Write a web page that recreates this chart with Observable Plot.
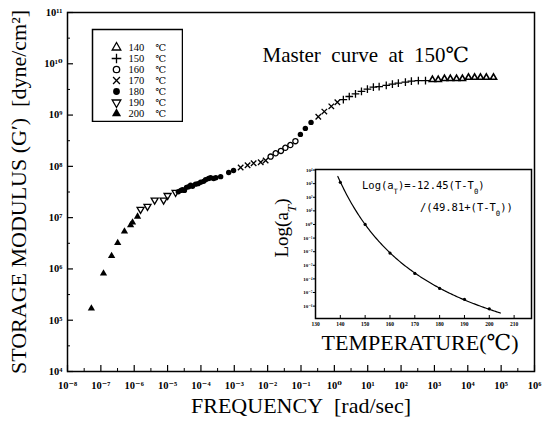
<!DOCTYPE html>
<html>
<head>
<meta charset="utf-8">
<script src="https://cdn.jsdelivr.net/npm/d3@7"></script>
<script src="https://cdn.jsdelivr.net/npm/@observablehq/plot@0.6"></script>
<style>
  body { margin: 0; background: #fff; }
  #chart { position: relative; width: 544px; height: 438px; }
</style>
</head>
<body>
<div id="chart"></div>
<script>
// Test temperatures (°C) and the master curve at 150 °C, shifted frequency (rad/sec) vs G' (dyne/cm²)
const temps = [140, 150, 160, 170, 180, 190, 200];
const filledTemps = [180, 200];

const f200 = [5.2e-8, 1.2e-7, 2.1e-7, 3.2e-7, 5.1e-7, 7.8e-7, 8.9e-7, 1.26e-6];
const g200 = [1.7e5, 8.2e5, 1.8e6, 3.2e6, 5.4e6, 7.1e6, 8.1e6, 1.05e7];

const f190 = [1.55e-6, 2.5e-6, 4.1e-6, 7.6e-6, 1.0e-5, 1.74e-5];
const g190 = [1.45e7, 1.66e7, 2.2e7, 2.2e7, 2.7e7, 3.1e7];

const f180 = [2.1e-5, 2.5e-5, 2.8e-5, 3.2e-5, 3.7e-5, 4.3e-5, 4.9e-5, 5.6e-5, 6.9e-5, 8.2e-5, 9.8e-5, 1.2e-4, 1.38e-4, 1.7e-4, 1.95e-4, 2.4e-4, 2.8e-4, 3.9e-4, 6.8e-4, 9.5e-4, 0.096, 0.135, 0.20];
const g180 = [3.2e7, 3.4e7, 3.5e7, 3.4e7, 3.9e7, 4.0e7, 4.3e7, 4.1e7, 4.5e7, 4.6e7, 4.9e7, 5.1e7, 5.5e7, 5.8e7, 6.0e7, 5.8e7, 6.0e7, 6.3e7, 7.6e7, 8.3e7, 4.2e8, 5.5e8, 7.2e8];

const f170 = [1.55e-3, 2.5e-3, 3.8e-3, 6.2e-3, 8.7e-3, 0.33, 0.50, 0.81, 1.23];
const g170 = [9.5e7, 1.05e8, 1.15e8, 1.2e8, 1.3e8, 9.3e8, 1.17e9, 1.48e9, 1.78e9];

const f160 = [1.23e-2, 1.74e-2, 2.5e-2, 3.4e-2, 4.8e-2, 6.8e-2];
const g160 = [1.55e8, 1.8e8, 2.0e8, 2.3e8, 2.6e8, 3.1e8];

const f150 = [1.86, 2.8, 4.3, 6.5, 9.8, 14.8, 22, 36, 55, 83, 135, 204, 330, 540];
const g150 = [2.0e9, 2.3e9, 2.6e9, 2.9e9, 3.2e9, 3.5e9, 3.6e9, 3.8e9, 4.0e9, 4.2e9, 4.4e9, 4.6e9, 4.7e9, 4.7e9];

const f140 = [870, 1.3e3, 2.0e3, 3.0e3, 4.6e3, 6.9e3, 1.05e4, 1.6e4, 2.4e4, 3.6e4, 5.9e4];
const g140 = [4.9e9, 4.9e9, 5.1e9, 5.1e9, 5.1e9, 5.1e9, 5.4e9, 5.4e9, 5.4e9, 5.4e9, 5.4e9];

// Shift-factor inset: measured log(aT) per temperature, and the WLF fit printed on the panel
const shiftT = [140, 150, 160, 170, 180, 190, 200];
const shiftLogA = [3.1, 0.0, -2.1, -3.6, -4.7, -5.5, -6.2];
const wlfC1 = 12.45, wlfC2 = 49.81, wlfT0 = 150;
const wlfRange = [139, 204.5];

// Axis ticks
const xMajor = d3.range(-8, 7).map(e => 10 ** e);
const xMinor = d3.range(-8, 6).map(e => 10 ** (e + 0.5));
const yMajor = d3.range(4, 12).map(e => 10 ** e);
const yMinor = d3.range(4, 11).map(e => 10 ** (e + 0.5));
const insetTicksX = d3.range(130, 211, 10);
const insetTicksY = d3.range(-6, 5);

// ---------------------------------------------------------------
const serif = "'Liberation Serif', 'DejaVu Serif', 'Noto Sans CJK JP', serif";
const mono = "'DejaVu Sans Mono', 'Liberation Mono', monospace";

const supMap = {"-": "⁻", "0": "⁰", "1": "¹", "2": "²", "3": "³", "4": "⁴", "5": "⁵", "6": "⁶", "7": "⁷", "8": "⁸", "9": "⁹"};
const supExp = n => String(n).replace(/./g, c => supMap[c]);
const pow10 = d => "10" + supExp(Math.round(Math.log10(d)));

// Downward-pointing triangle (d3 has only the upward one)
const sqrt3 = Math.sqrt(3);
const triangleDown = {
  draw(context, size) {
    const y = -Math.sqrt(size / (sqrt3 * 3));
    context.moveTo(0, -y * 2);
    context.lineTo(-sqrt3 * y, y);
    context.lineTo(sqrt3 * y, y);
    context.closePath();
  }
};

const symbolScale = {
  domain: temps,
  range: ["triangle", "plus", "circle", "times", "circle", triangleDown, "triangle"]
};

const series = [
  {t: 140, f: f140, g: g140}, {t: 150, f: f150, g: g150}, {t: 160, f: f160, g: g160},
  {t: 170, f: f170, g: g170}, {t: 180, f: f180, g: g180}, {t: 190, f: f190, g: g190},
  {t: 200, f: f200, g: g200}
];
const rows = series.flatMap(s => s.f.map((f, i) => ({t: s.t, f, g: s.g[i]})));
const isFilled = t => filledTemps.includes(t);

const chart = document.getElementById("chart");
function place(node, left, top) {
  node.style.position = "absolute";
  node.style.left = left + "px";
  node.style.top = top + "px";
  chart.appendChild(node);
}

// ---------------- Main master-curve plot ----------------
const W = 544, H = 438;
const M = {left: 67, right: 10, top: 12, bottom: 67};
const FW = W - M.left - M.right, FH = H - M.top - M.bottom;

const main = Plot.plot({
  width: W, height: H,
  marginLeft: M.left, marginRight: M.right, marginTop: M.top, marginBottom: M.bottom,
  style: {fontFamily: serif, background: "white", color: "black"},
  x: {type: "log", domain: [1e-8, 1e6], label: null},
  y: {type: "log", domain: [1e4, 1e11], label: null},
  symbol: symbolScale,
  marks: [
    Plot.dot(rows.filter(d => d.t === 140), {x: "f", y: "g", symbol: "t", r: 2.3, stroke: "black", fill: "none", strokeWidth: 1.6}),
    Plot.dot(rows.filter(d => d.t !== 140 && !isFilled(d.t)), {x: "f", y: "g", symbol: "t", r: 2.6, stroke: "black", fill: "none", strokeWidth: 1.3}),
    Plot.dot(rows.filter(d => isFilled(d.t)), {x: "f", y: "g", symbol: "t", r: 2.7, fill: "black", stroke: "none"}),
    Plot.ruleY(yMajor, {y: d => d, insetRight: FW - 6, strokeWidth: 1.2}),
    Plot.ruleY(yMinor, {y: d => d, insetRight: FW - 3}),
    Plot.ruleX(xMajor, {x: d => d, insetTop: FH - 6, strokeWidth: 1.2}),
    Plot.ruleX(xMinor, {x: d => d, insetTop: FH - 3}),
    Plot.frame({strokeWidth: 1.5}),
    Plot.axisX({ticks: xMajor, tickSize: 0, tickPadding: 10, tickFormat: pow10, fontSize: 10.5, fontWeight: "bold"}),
    Plot.axisY({ticks: yMajor, tickSize: 0, tickPadding: 5, tickFormat: pow10, fontSize: 10.5, fontWeight: "bold"}),
    Plot.text(["STORAGE MODULUS (G′)\u2002[dyne/cm²]"], {text: d => d, frameAnchor: "left", textAnchor: "middle", dx: -49, rotate: -90, fontSize: 22}),
    Plot.text(["FREQUENCY\u2002[rad/sec]"], {text: d => d, frameAnchor: "bottom", dy: 41, fontSize: 22}),
    Plot.text(["Master\u2002curve\u2002at\u2002150℃"], {text: d => d, frameAnchor: "top-left", dx: 195, dy: 35, textAnchor: "start", fontSize: 21})
  ]
});
place(main, 0, 0);

// ---------------- Legend ----------------
const legend = Plot.plot({
  width: 92, height: 94,
  marginLeft: 1, marginRight: 1, marginTop: 1, marginBottom: 1,
  style: {fontFamily: serif, background: "white", color: "black"},
  x: {domain: [0, 1], axis: null},
  y: {type: "point", domain: temps, padding: 0, insetTop: 17, insetBottom: 8, axis: null},
  symbol: symbolScale,
  marks: [
    Plot.frame({strokeWidth: 1.5}),
    Plot.dot(temps.filter(t => !isFilled(t)), {y: d => d, symbol: d => d, frameAnchor: "left", dx: 24, r: 3.2, stroke: "black", fill: "none", strokeWidth: 1.3}),
    Plot.dot(temps.filter(isFilled), {y: d => d, symbol: d => d, frameAnchor: "left", dx: 24, r: 3.4, fill: "black", stroke: "none"}),
    Plot.text(temps, {y: d => d, text: d => String(d), frameAnchor: "left", dx: 36, textAnchor: "start", fontSize: 10.5}),
    Plot.text(temps, {y: d => d, text: () => "℃", frameAnchor: "left", dx: 63, textAnchor: "start", fontSize: 9.5})
  ]
});
place(legend, 91, 28);

// ---------------- Inset: shift factor vs temperature ----------------
const wlf = T => -wlfC1 * (T - wlfT0) / (wlfC2 + (T - wlfT0));
const wlfCurve = d3.range(wlfRange[0], wlfRange[1] + 0.01, 0.5).map(T => ({T, v: wlf(T)}));
const shiftRows = shiftT.map((T, i) => ({T, v: shiftLogA[i]}));

const IW = 270, IH = 195;
const IM = {left: 45, right: 9, top: 9, bottom: 37};
const IFH = IH - IM.top - IM.bottom;

const inset = Plot.plot({
  width: IW, height: IH,
  marginLeft: IM.left, marginRight: IM.right, marginTop: IM.top, marginBottom: IM.bottom,
  style: {fontFamily: serif, background: "transparent", overflow: "visible", color: "black"},
  x: {domain: [130, 217], label: null},
  y: {domain: [-6.91, 4.04], label: null},
  marks: [
    Plot.frame({fill: "white", stroke: "black", strokeWidth: 1.5}),
    Plot.line(wlfCurve, {x: "T", y: "v", strokeWidth: 1.2}),
    Plot.dot(shiftRows, {x: "T", y: "v", r: 1.6, fill: "black"}),
    Plot.ruleX(insetTicksX, {x: d => d, insetTop: IFH - 3}),
    Plot.axisX({ticks: insetTicksX, tickSize: 0, tickPadding: 4, fontSize: 5.5, fontWeight: "bold"}),
    Plot.axisY({ticks: insetTicksY, tickSize: 2, tickPadding: 1, tickFormat: n => "10" + supExp(n), fontSize: 5, fontWeight: "bold"})
  ]
});
place(inset, 270, 160);

const isvg = d3.select(inset);
function sub(textSel, s, italic) {
  const t = textSel.append("tspan").attr("baseline-shift", "sub").attr("font-size", "70%").text(s);
  if (italic) t.attr("font-style", "italic");
}
// Fitted equation
const eq1 = isvg.append("text").attr("x", 92).attr("y", 29).attr("text-anchor", "start")
  .attr("font-family", mono).attr("font-size", 10.5).attr("fill", "black");
eq1.append("tspan").text("Log(a");
sub(eq1, "T");
eq1.append("tspan").text(")=-12.45(T-T");
sub(eq1, "0");
eq1.append("tspan").text(")");

const eq2 = isvg.append("text").attr("x", 150).attr("y", 51).attr("text-anchor", "start")
  .attr("font-family", mono).attr("font-size", 10.5).attr("fill", "black");
eq2.append("tspan").text("/(49.81+(T-T");
sub(eq2, "0");
eq2.append("tspan").text("))");

// Axis titles of the inset
const yl = isvg.append("text")
  .attr("transform", "translate(18,68) rotate(-90)")
  .attr("text-anchor", "middle").attr("font-family", serif).attr("font-size", 19).attr("fill", "black");
yl.append("tspan").text("Log(a");
sub(yl, "T", true);
yl.append("tspan").text(")");

isvg.append("text").attr("x", 150).attr("y", 190)
  .attr("text-anchor", "middle").attr("font-family", serif).attr("font-size", 22).attr("fill", "black")
  .text("TEMPERATURE(℃)");
</script>
</body>
</html>
